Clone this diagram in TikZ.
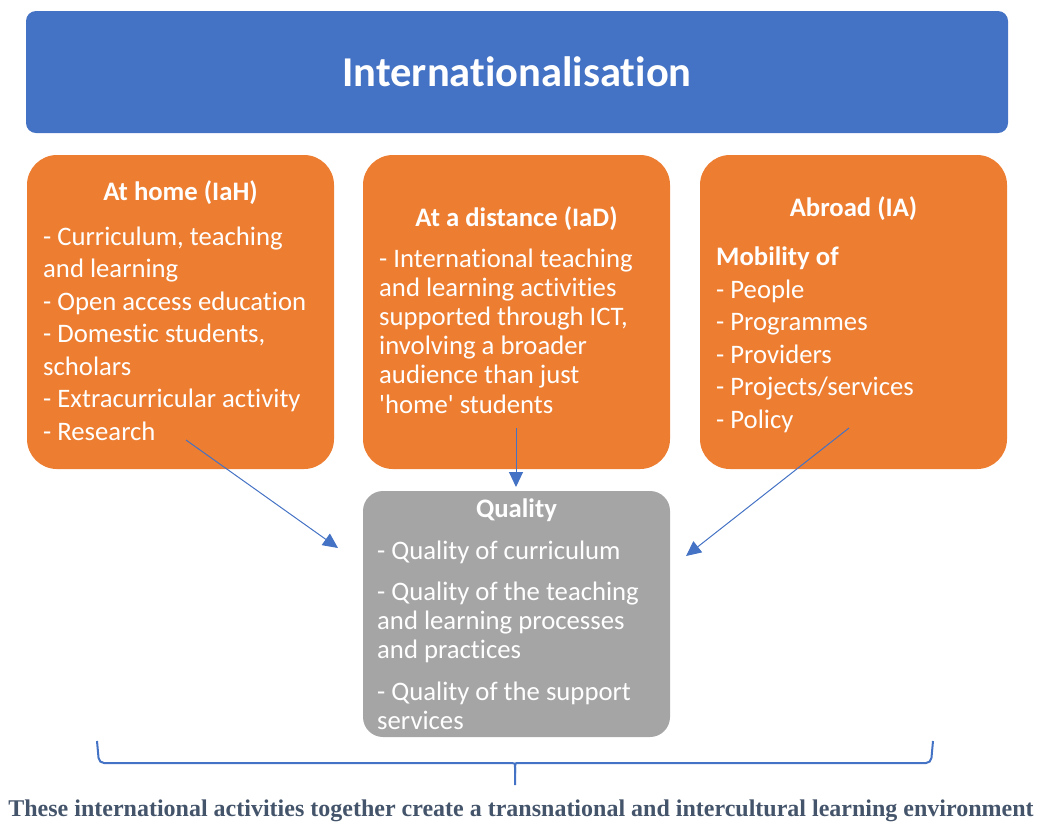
\documentclass[tikz,border=0pt]{standalone}
\usepackage{fontspec}
\setmainfont{Carlito}[Ligatures={TeX,NoCommon}]
\newfontfamily\capfont{Liberation Serif}
\usetikzlibrary{arrows.meta}
\usetikzlibrary{positioning}

\definecolor{bannerblue}{HTML}{4472C4}
\definecolor{areaorange}{HTML}{ED7D31}
\definecolor{qualgrey}{HTML}{A5A5A5}
\definecolor{notegrey}{HTML}{44546A}

\begin{document}
\begin{tikzpicture}[x=1pt, y=-1pt,
    banner/.style={fill=bannerblue, rounded corners=10pt, inner sep=0pt, minimum width=982pt, minimum height=122pt},
    areabox/.style={fill=areaorange, rounded corners=30pt, inner sep=0pt, minimum width=307pt, minimum height=314pt},
    qualbox/.style={fill=qualgrey, rounded corners=20pt, inner sep=0pt, minimum width=307pt, minimum height=246pt},
    title/.style={text=white, inner sep=0pt, font=\fontsize{42.5}{50}\selectfont\bfseries},
    head/.style={text=white, inner sep=0pt, anchor=base, font=\fontsize{26.7}{32}\selectfont\bfseries},
    body/.style={text=white, inner sep=0pt, align=left, anchor=base west, font=\fontsize{26.7}{32.5}\selectfont},
    link/.style={draw=bannerblue, line width=1pt, -{Triangle[length=15pt, width=14pt, fill=bannerblue]}},
    brace/.style={draw=bannerblue, line width=2pt, rounded corners=5pt},
    note/.style={text=notegrey, inner sep=0pt, font=\capfont\fontsize{24}{28}\selectfont\bfseries}]
    \useasboundingbox (0,0) rectangle (1040,823);

    \node[banner] (top) at (517,72) {};
    \node[title] (toptext) at (517,72) {Internationalisation};

    \node[areabox] (home) at (180.5,312) {};
    \node[areabox] (distance) at (516.5,312) {};
    \node[areabox] (abroad) at (853.5,312) {};
    \node[qualbox] (quality) at (516.5,614) {};

    % headings
    \node[head] (homehead) at (180.5,200) {At home (IaH)};
    \node[head] (distancehead) at (516.5,226) {At a distance (IaD)};
    \node[head] (abroadhead) at (853.5,216) {Abroad (IA)};
    \node[head] (qualhead) at (516.5,517) {Quality};

    % lists (anchored on the last line)
    \node[body] (homelist) at (43,440) {- Curriculum, teaching\\and learning\\- Open access education\\- Domestic students,\\scholars\\- Extracurricular activity\\- Research};
    \node[body, font=\fontsize{26.7}{29.1}\selectfont] (distancelist) at (379,413) {- International teaching\\and learning activities\\supported through ICT,\\involving a broader\\audience than just\\\textquotesingle home\textquotesingle{} students};
    \node[body] (abroadlist) at (716,428) {\textbf{Mobility of}\\- People\\- Programmes\\- Providers\\- Projects/services\\- Policy};
    \node[body, font=\fontsize{26.7}{29}\selectfont] (quallist) at (377,729) {- Quality of curriculum\\[12.5pt]- Quality of the teaching\\and learning processes\\and practices\\[12.5pt]- Quality of the support\\services};

    % arrows into quality
    \coordinate (homefoot) at (186,440);
    \coordinate (distancefoot) at (516,428);
    \coordinate (abroadfoot) at (849,428);
    \coordinate (qualwest) at (338,548);
    \coordinate (qualnorth) at (516,487);
    \coordinate (qualeast) at (686,556);
    \draw[link] (homefoot) -- (qualwest);
    \draw[link] (distancefoot) -- (qualnorth);
    \draw[link] (abroadfoot) -- (qualeast);

    % brace
    \draw[brace] (97,741) -- (99,763) -- (507,763) .. controls (515,763) .. (515,773) -- (515,785);
    \draw[brace] (933,741) -- (931,763) -- (523,763) .. controls (515,763) .. (515,773);

    \node[note] (summary) at (521,811) {These international activities together create a transnational and intercultural learning environment};
\end{tikzpicture}
\end{document}
